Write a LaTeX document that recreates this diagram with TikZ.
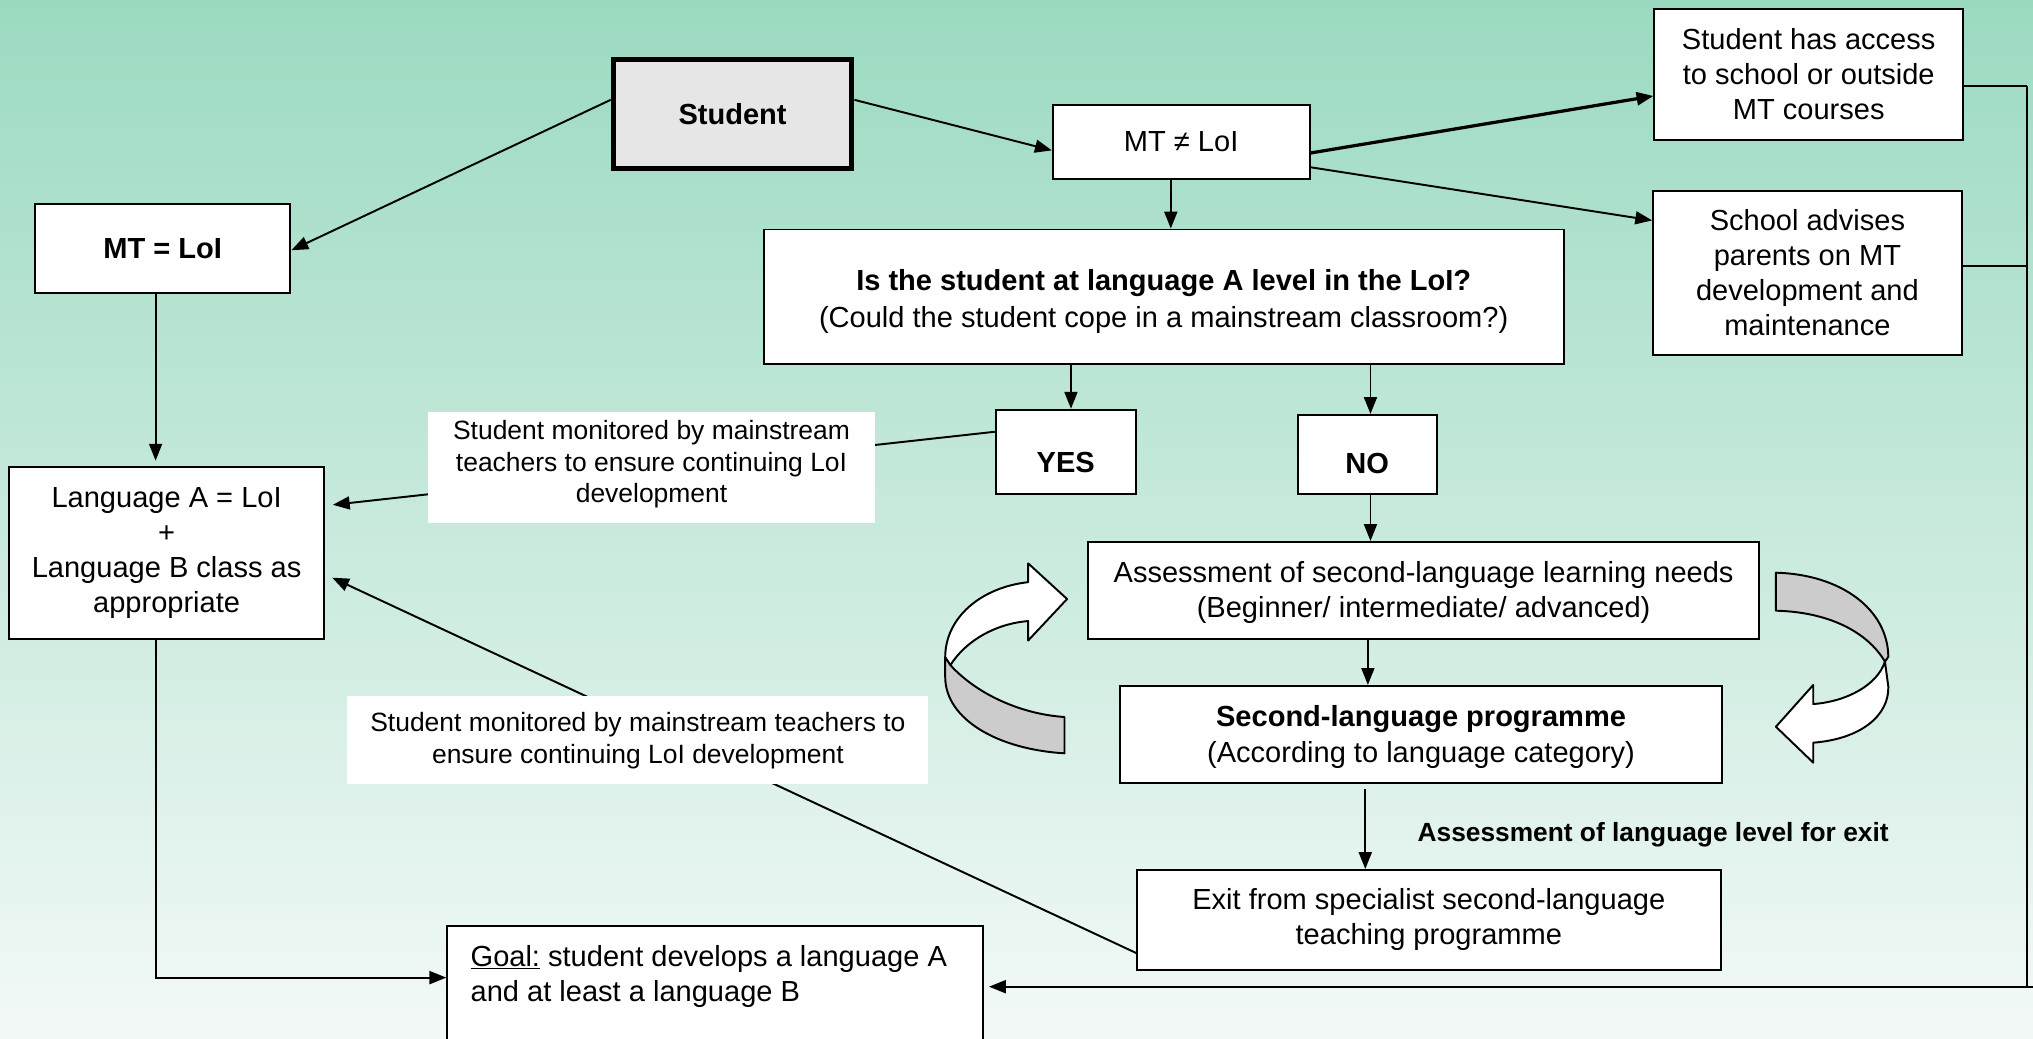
\documentclass[tikz,border=0pt]{standalone}
\usepackage{fontspec}
\setmainfont{Liberation Sans}
\usetikzlibrary{arrows.meta}
\definecolor{bgtop}{RGB}{155,218,192}
\definecolor{bgbot}{RGB}{243,249,247}
\definecolor{studfill}{RGB}{230,230,230}
\definecolor{ribgray}{RGB}{204,204,204}
\newcommand{\lowered}[2]{\raisebox{-#1}[\height][\depth]{\begin{tabular}{@{}c@{}}#2\end{tabular}}}
\begin{document}
\begin{tikzpicture}[x=1pt,y=-1pt,
  box/.style={draw=black,line width=1.5pt,fill=white,align=center,inner sep=0pt,font=\fontsize{22.4}{27}\selectfont},
  boldbox/.style={box,font=\fontsize{22.4}{27}\selectfont\bfseries},
  lbl/.style={fill=white,align=center,inner sep=0pt,font=\fontsize{20.4}{24.5}\selectfont},
  conn/.style={line width=1.5pt,-{Triangle[length=13pt,width=10pt]}},
  plain/.style={line width=1.5pt},
  rib/.style={draw=black,line width=1.5pt,line join=round}]
\useasboundingbox (0,0) rectangle (1568,801);
\clip (0,0) rectangle (1568,801);
\shade[top color=bgtop,bottom color=bgbot] (0,0) rectangle (1568,801);

% boxes
\node[boldbox,line width=4pt,fill=studfill,minimum width=184pt,minimum height=84pt] (stu) at (565,88) {Student};
\node[boldbox,minimum width=197pt,minimum height=69pt] (mteq) at (125.5,191.5) {MT = LoI};
\node[box,minimum width=198pt,minimum height=57pt] (mtne) at (911,109.5) {MT ≠ LoI};
\node[box,minimum width=238pt,minimum height=101pt] (acc) at (1395,57.5) {Student has access\\to school or outside\\MT courses};
\node[box,minimum width=238pt,minimum height=127pt] (adv) at (1394,210.5) {School advises\\parents on MT\\development and\\maintenance};
\node[box,minimum width=617pt,minimum height=104pt] (q) at (897.5,229) {\lowered{4pt}{\textbf{Is the student at language A level in the LoI?}\\[2pt](Could the student cope in a mainstream classroom?)}};
\node[boldbox,minimum width=108pt,minimum height=65pt] (yes) at (822,348.5) {\lowered{10.5pt}{YES}};
\node[boldbox,minimum width=107pt,minimum height=61pt] (no) at (1054.5,350.5) {\lowered{9.5pt}{NO}};
\node[box,minimum width=243pt,minimum height=133pt] (la) at (128.5,426.5) {Language A = LoI\\+\\Language B class as\\appropriate};
\node[box,minimum width=518pt,minimum height=75pt] (as) at (1098,455.5) {\lowered{1.5pt}{Assessment of second-language learning needs\\(Beginner/ intermediate/ advanced)}};
\node[box,minimum width=464pt,minimum height=75pt] (slp) at (1096,566.5) {\lowered{2.5pt}{\textbf{Second-language programme}\\[1pt](According to language category)}};
\node[box,minimum width=450pt,minimum height=77pt] (ex) at (1102,709.5) {Exit from specialist second-language\\teaching programme};
\node[box,minimum width=413pt,minimum height=90pt] (goal) at (551.5,759) {\begin{minipage}[c][90pt][t]{377pt}\raggedright\vspace*{15pt}\underline{Goal:} student develops a language A\\and at least a language B\end{minipage}};

% ribbons
\filldraw[rib,fill=white] (793,449) .. controls (757,453) and (729,476) .. (729,507) -- (733,513) .. controls (745,494) and (768,481) .. (793,479) -- (793,494) -- (823,462) -- (793,434.5) -- cycle;
\filldraw[rib,fill=ribgray] (733,513) .. controls (755,537) and (790,551) .. (821,553) -- (821,581) .. controls (770,578) and (729,555) .. (729,522) -- (729,507) -- cycle;
\filldraw[rib,fill=ribgray] (1369.7,441.7) .. controls (1420,443) and (1456,470) .. (1456.4,506.5) -- (1453.8,510.3) .. controls (1440,487) and (1410,472) .. (1369.7,471) -- cycle;
\filldraw[rib,fill=white] (1453.8,510.3) .. controls (1448,528) and (1425,541) .. (1398.5,543) -- (1398.5,528.3) -- (1369.7,560.5) -- (1398.5,588.2) -- (1398.5,572.8) .. controls (1435,570) and (1457,552) .. (1456.4,529.6) -- cycle;

% connectors
\draw[conn] ([yshift=11pt]stu.west) -- ([yshift=-1.5pt]mteq.east);
\draw[conn] ([yshift=11pt]stu.east) -- ([yshift=-6.5pt]mtne.west);
\draw[conn] ([xshift=-8pt]mtne.south) -- ([xshift=5.5pt]q.north);
\draw[conn,line width=2.5pt] ([yshift=-8.5pt]mtne.east) -- ([yshift=-16.5pt]acc.west);
\draw[conn] ([yshift=-19.5pt]mtne.east) -- ([yshift=40.5pt]adv.west);
\draw[conn] ([xshift=-71.5pt]q.south) -- ([xshift=4pt]yes.north);
\draw[conn] ([xshift=159.5pt]q.south) -- ([xshift=2.5pt]no.north);
\draw[conn] ([xshift=2.5pt]no.south) -- ([xshift=-41pt]as.north);
\draw[conn] ([xshift=-43pt]as.south) -- ([xshift=-41pt]slp.north);
\draw[conn] ([xshift=-43pt,yshift=-4pt]slp.south) -- ([xshift=-49pt]ex.north);
\draw[conn] ([xshift=-5.5pt]mteq.south) -- ([xshift=-8.5pt,yshift=4pt]la.north);
\draw[conn] ([xshift=-8.5pt]la.south) |- ([yshift=5pt]goal.west);
\draw[conn,shorten >=6pt] ([yshift=15.5pt]yes.west) -- ([yshift=36.5pt]la.east);
\draw[conn,shorten >=6pt] ([yshift=-25.5pt]ex.west) -- ([yshift=-16.5pt]la.east);
\coordinate (rt) at (1563,66);
\coordinate (rm) at (1563,205);
\coordinate (rb) at (1563,761);
\coordinate (rr) at (1568,761);
\draw[plain] ([yshift=-8.5pt]acc.east) -- (rt);
\draw[plain] ([yshift=5.5pt]adv.east) -- (rm);
\draw[plain] (rt) -- (rb);
\draw[conn,shorten >=4pt] (rr) -- ([yshift=-2pt]goal.east);

% labels on top of lines
\node[lbl,minimum width=345pt,minimum height=85pt] (m1) at (502.5,360.5) {\lowered{-2pt}{Student monitored by mainstream\\teachers to ensure continuing LoI\\development}};
\node[lbl,minimum width=448pt,minimum height=68pt] (m2) at (492,571) {Student monitored by mainstream teachers to\\ensure continuing LoI development};
\node[font=\fontsize{20.3}{24}\selectfont\bfseries,inner sep=0pt] (exl) at (1275,644) {Assessment of language level for exit};
\end{tikzpicture}
\end{document}
